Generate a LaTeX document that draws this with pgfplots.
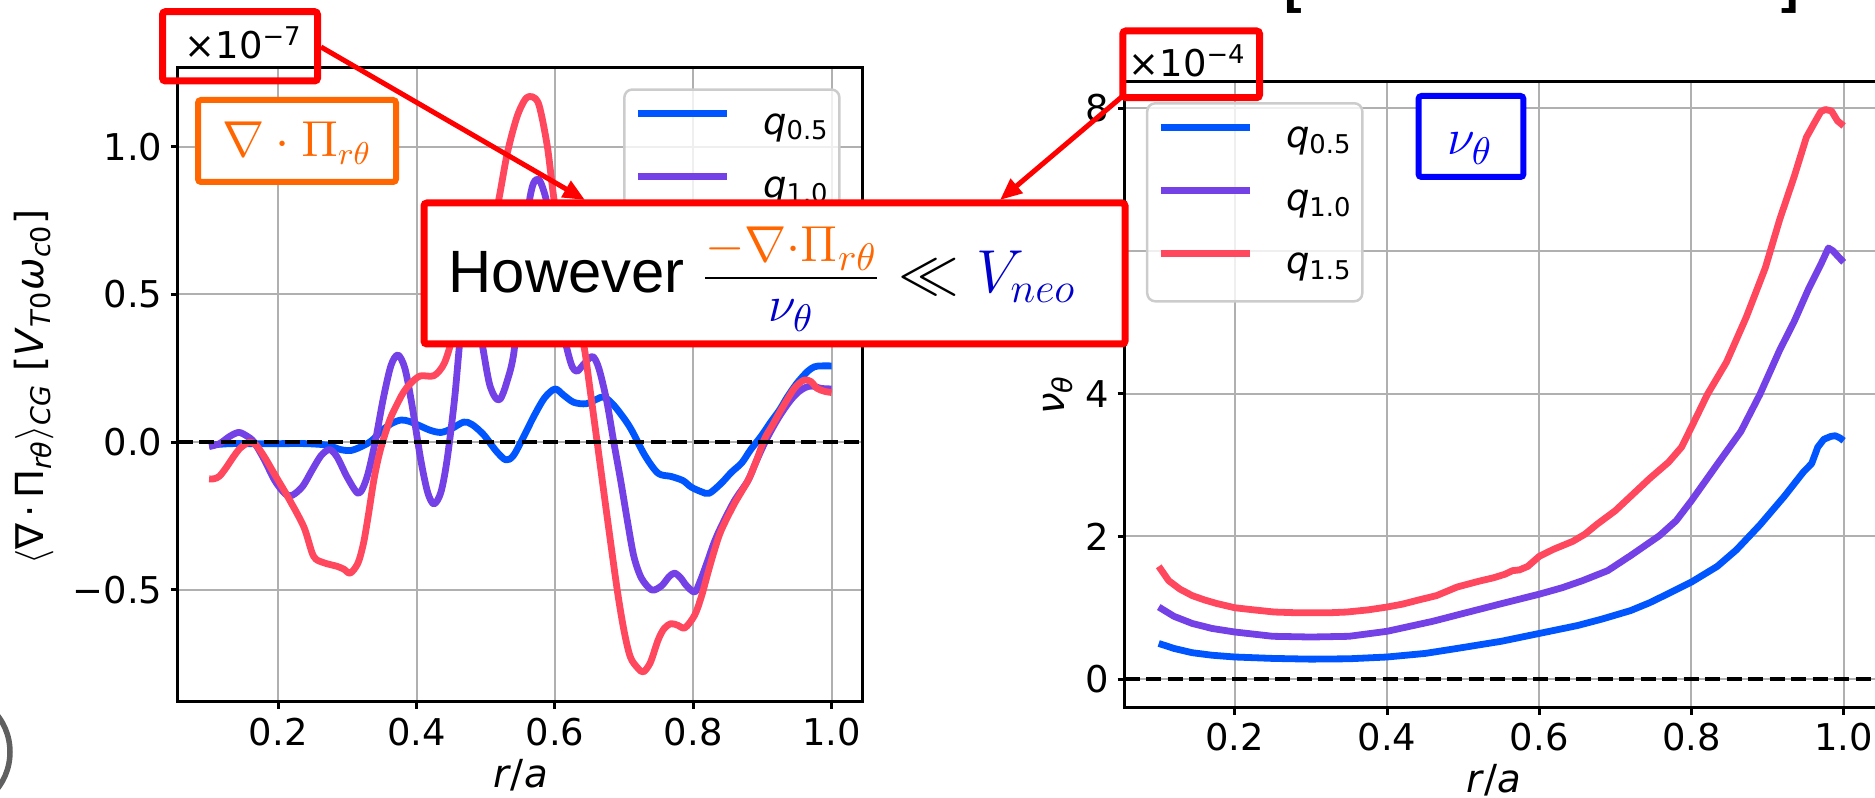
\documentclass[border=0pt]{standalone}
\usepackage[no-math]{fontspec}
\setmainfont{DejaVu Sans}
\newfontfamily\arialfont{Liberation Sans}
\usepackage{pgfplots}
\pgfplotsset{compat=1.18}
\usetikzlibrary{arrows.meta}
\definecolor{cblue}{HTML}{0055FF}
\definecolor{cpurp}{HTML}{7341E6}
\definecolor{cred}{HTML}{FF475E}
\definecolor{corange}{HTML}{FF6600}
\definecolor{pblue}{HTML}{0000FF}
\definecolor{dblue}{HTML}{0000CC}
\definecolor{gridgray}{HTML}{B0B0B0}
\newcommand\fs{\fontsize{10.5}{12.6}\selectfont}
\newcommand\fsl{\fontsize{11}{13.2}\selectfont}
\pgfplotsset{
  myax/.style={
    scale only axis, anchor=south west,
    xmin=0.055, xmax=1.045,
    xtick={0.2,0.4,0.6,0.8,1.0}, xticklabels={0.2,0.4,0.6,0.8,1.0},
    grid=major, grid style={gridgray, line width=0.2mm},
    tick align=outside, major tick length=0.7mm,
    xtick pos=left, ytick pos=left,
    tick style={black, line width=0.3mm},
    axis line style={black, line width=0.3mm},
    tick label style={font=\fs, inner sep=0.8mm},
    label style={font=\fsl},
    legend cell align=left,
    legend image code/.code={\draw[##1, line width=0.68mm] (0mm,1.2mm) -- (8.9mm,1.2mm);},
    legend style={draw=black!20, line width=0.25mm, rounded corners=0.8mm, fill=white,
      fill opacity=0.8, text opacity=1, draw opacity=1, inner xsep=1.0mm, inner ysep=1.85mm,
      row sep=2.8mm, font=\fs,
      nodes={inner sep=0pt, text height=2.6mm, text depth=0.9mm},
      /tikz/every odd column/.append style={column sep=3.3mm}},
    every axis plot/.append style={line width=0.68mm, line join=round},
  },
}
\begin{document}
\begin{tikzpicture}
% ---------------- left axis ----------------
\begin{axis}[myax,
  at={(17.8mm,-70.2mm)}, width=68.48mm, height=63.4mm,
  ymin=-0.879, ymax=1.266,
  ytick={-0.5,0,0.5,1.0}, yticklabels={−0.5,0.0,0.5,1.0},
  xlabel={\textit{r}/\textit{a}},
  xlabel style={at={(axis description cs:0.5,-0.115)}, anchor=center},
  ylabel={$\langle$∇\,·\,Π\textsubscript{\textit{rθ}}$\rangle$\textsubscript{\textit{CG}} [\textit{V}\textsubscript{\textit{T}0}\textit{ω}\textsubscript{\textit{c}0}]},
  ylabel style={at={(axis description cs:-0.2103,0.497)}, anchor=center},
  legend style={at={(0.65,0.968)}, anchor=north west},
]
\addplot[cblue, smooth, tension=0.5] coordinates {
(0.100,-0.010) (0.130,-0.005) (0.160,-0.005) (0.200,-0.005) (0.240,-0.005) (0.270,-0.010)
(0.290,-0.025) (0.305,-0.028) (0.320,-0.015) (0.335,0.005) (0.350,0.040) (0.365,0.065)
(0.378,0.075) (0.390,0.070) (0.405,0.055) (0.420,0.040) (0.435,0.033) (0.450,0.045)
(0.468,0.068) (0.480,0.060) (0.497,0.025) (0.515,-0.030) (0.529,-0.060) (0.540,-0.045)
(0.555,0.020) (0.570,0.090) (0.585,0.150) (0.600,0.180) (0.612,0.160) (0.627,0.135)
(0.645,0.130) (0.660,0.145) (0.671,0.153) (0.685,0.125) (0.700,0.080) (0.711,0.040)
(0.730,-0.045) (0.749,-0.105) (0.768,-0.116) (0.785,-0.130) (0.797,-0.152) (0.812,-0.168)
(0.823,-0.173) (0.840,-0.140) (0.855,-0.102) (0.870,-0.070) (0.883,-0.025) (0.898,0.020)
(0.912,0.068) (0.925,0.110) (0.936,0.153) (0.950,0.200) (0.965,0.239) (0.975,0.255)
(0.985,0.258) (1.000,0.258)};
\addlegendentry{\textit{q}\textsubscript{0.5}}
\addplot[cpurp, smooth, tension=0.5] coordinates {
(0.100,-0.015) (0.115,-0.005) (0.130,0.020) (0.143,0.033) (0.155,0.020) (0.165,0.000)
(0.180,-0.060) (0.195,-0.130) (0.210,-0.175) (0.220,-0.180) (0.235,-0.150) (0.250,-0.090)
(0.262,-0.045) (0.274,-0.025) (0.285,-0.050) (0.300,-0.120) (0.316,-0.173) (0.328,-0.120)
(0.340,0.000) (0.352,0.150) (0.363,0.260) (0.373,0.295) (0.383,0.250) (0.393,0.130)
(0.406,-0.060) (0.416,-0.170) (0.425,-0.209) (0.435,-0.170) (0.444,-0.060) (0.455,0.150)
(0.465,0.400) (0.475,0.520) (0.485,0.480) (0.495,0.330) (0.505,0.200) (0.514,0.150)
(0.521,0.146) (0.530,0.200) (0.541,0.310) (0.552,0.600) (0.562,0.800) (0.568,0.870)
(0.574,0.890) (0.580,0.875) (0.589,0.800) (0.600,0.600) (0.610,0.400) (0.618,0.310)
(0.625,0.255) (0.632,0.240) (0.642,0.265) (0.654,0.290) (0.662,0.260) (0.669,0.200)
(0.676,0.125) (0.685,0.000) (0.695,-0.130) (0.705,-0.270) (0.714,-0.386) (0.725,-0.460)
(0.740,-0.500) (0.754,-0.486) (0.765,-0.455) (0.773,-0.443) (0.782,-0.460) (0.790,-0.485)
(0.802,-0.507) (0.810,-0.470) (0.821,-0.400) (0.830,-0.340) (0.840,-0.287) (0.859,-0.200)
(0.879,-0.130) (0.890,-0.070) (0.903,-0.003) (0.915,0.050) (0.927,0.097) (0.940,0.140)
(0.951,0.168) (0.962,0.185) (0.972,0.190) (0.985,0.182) (1.000,0.180)};
\addlegendentry{\textit{q}\textsubscript{1.0}}
\addplot[cred, smooth, tension=0.5] coordinates {
(0.100,-0.124) (0.107,-0.124) (0.115,-0.115) (0.125,-0.085) (0.135,-0.050) (0.145,-0.020)
(0.158,0.000) (0.168,-0.010) (0.180,-0.050) (0.190,-0.090) (0.200,-0.130) (0.215,-0.190)
(0.237,-0.287) (0.251,-0.386) (0.266,-0.408) (0.285,-0.420) (0.295,-0.430) (0.304,-0.443)
(0.315,-0.410) (0.323,-0.344) (0.330,-0.250) (0.338,-0.130) (0.345,-0.050) (0.352,0.010)
(0.362,0.080) (0.371,0.125) (0.380,0.165) (0.390,0.196) (0.405,0.224) (0.425,0.225)
(0.440,0.267) (0.454,0.366) (0.470,0.460) (0.490,0.600) (0.505,0.700) (0.517,0.800)
(0.531,0.977) (0.545,1.100) (0.557,1.160) (0.567,1.169) (0.577,1.140) (0.589,1.000)
(0.600,0.800) (0.615,0.640) (0.630,0.470) (0.643,0.310) (0.649,0.208) (0.661,0.000)
(0.675,-0.245) (0.690,-0.500) (0.700,-0.640) (0.709,-0.727) (0.720,-0.765) (0.728,-0.777)
(0.738,-0.745) (0.749,-0.670) (0.758,-0.630) (0.768,-0.614) (0.778,-0.620) (0.788,-0.628)
(0.802,-0.585) (0.812,-0.520) (0.821,-0.443) (0.830,-0.370) (0.840,-0.300) (0.859,-0.210)
(0.879,-0.130) (0.890,-0.070) (0.903,0.011) (0.915,0.060) (0.927,0.110) (0.946,0.182)
(0.960,0.210) (0.970,0.205) (0.979,0.182) (0.990,0.172) (1.000,0.168)};
\addlegendentry{\textit{q}\textsubscript{1.5}}
\addplot[black, line width=0.4mm, dash pattern=on 1.5mm off 0.65mm, forget plot]
  coordinates {(0.055,0) (1.045,0)};
\end{axis}
% ---------------- right axis ----------------
\begin{axis}[myax,
  at={(112.45mm,-70.77mm)}, width=75.34mm, height=62.6mm,
  ymin=-0.40, ymax=8.37,
  ytick={0,2,4,6,8}, yticklabels={0,2,4,6,8},
  xlabel={\textit{r}/\textit{a}},
  xlabel style={at={(axis description cs:0.49,-0.1155)}, anchor=center},
  ylabel={\textit{ν}\textsubscript{\textit{θ}}},
  ylabel style={at={(axis description cs:-0.0883,0.4995)}, anchor=center},
  legend style={at={(0.0285,0.9675)}, anchor=north west},
]
\addplot[cblue] coordinates {
(0.100,0.50) (0.120,0.43) (0.144,0.37) (0.170,0.335) (0.200,0.31) (0.250,0.29) (0.300,0.28)
(0.350,0.285) (0.400,0.31) (0.450,0.36) (0.492,0.43) (0.550,0.53) (0.600,0.64) (0.650,0.75)
(0.682,0.84) (0.720,0.96) (0.745,1.07) (0.770,1.20) (0.800,1.36) (0.834,1.58) (0.859,1.81)
(0.890,2.16) (0.922,2.56) (0.947,2.90) (0.958,3.02) (0.966,3.25) (0.974,3.36) (0.983,3.40)
(0.989,3.41) (0.995,3.38) (1.000,3.34)};
\addlegendentry{\textit{q}\textsubscript{0.5}}
\addplot[cpurp] coordinates {
(0.100,1.01) (0.120,0.88) (0.144,0.78) (0.170,0.71) (0.200,0.66) (0.250,0.60) (0.300,0.59)
(0.350,0.60) (0.400,0.67) (0.460,0.81) (0.500,0.92) (0.555,1.07) (0.600,1.19) (0.630,1.28)
(0.657,1.38) (0.690,1.52) (0.720,1.73) (0.758,2.01) (0.780,2.22) (0.800,2.50) (0.834,3.01)
(0.865,3.47) (0.890,3.99) (0.916,4.61) (0.935,5.01) (0.954,5.47) (0.970,5.81) (0.980,6.04)
(0.986,6.00) (0.992,5.93) (1.000,5.84)};
\addlegendentry{\textit{q}\textsubscript{1.0}}
\addplot[cred] coordinates {
(0.100,1.58) (0.113,1.38) (0.128,1.26) (0.144,1.17) (0.160,1.11) (0.176,1.06) (0.200,1.00)
(0.225,0.97) (0.252,0.94) (0.280,0.93) (0.302,0.93) (0.325,0.93) (0.347,0.94) (0.375,0.97)
(0.400,1.01) (0.420,1.05) (0.442,1.11) (0.465,1.17) (0.492,1.29) (0.520,1.37) (0.540,1.42)
(0.555,1.47) (0.565,1.52) (0.574,1.53) (0.585,1.58) (0.600,1.72) (0.619,1.82) (0.644,1.93)
(0.660,2.03) (0.676,2.17) (0.700,2.36) (0.720,2.56) (0.745,2.81) (0.770,3.04) (0.787,3.25)
(0.800,3.53) (0.821,3.99) (0.846,4.44) (0.872,5.07) (0.897,5.76) (0.916,6.44) (0.935,7.04)
(0.951,7.59) (0.963,7.82) (0.970,7.95) (0.976,7.98) (0.984,7.96) (0.992,7.82) (1.000,7.75)};
\addlegendentry{\textit{q}\textsubscript{1.5}}
\addplot[black, line width=0.4mm, dash pattern=on 1.5mm off 0.65mm, forget plot]
  coordinates {(0.055,0) (1.045,0)};
\end{axis}
% ---------------- annotations (pixel coordinates from top-left) ----------------
\begin{scope}[x=0.1mm, y=-0.1mm]
\node[anchor=base west, inner sep=0, font=\fs] at (184,59) {×10\textsuperscript{−7}};
\draw[red, line width=0.7mm, rounded corners=0.3mm] (162.5,11.7) rectangle (317.5,81);
\node[anchor=base west, inner sep=0, font=\fs] at (1128,77) {×10\textsuperscript{−4}};
\draw[red, line width=0.7mm, rounded corners=0.3mm] (1122.8,31) rectangle (1259.5,97.7);
\draw[corange, line width=0.6mm, fill=white, rounded corners=0.3mm] (198,100) rectangle (396,182);
\node[corange, anchor=base, inner sep=0, font=\fontsize{13.5}{16}\selectfont] at (297,157) {$\nabla\cdot\Pi_{r\theta}$};
\draw[pblue, line width=0.6mm, fill=white, rounded corners=0.3mm] (1418.5,96) rectangle (1523.4,177);
\node[pblue, anchor=base, inner sep=0, font=\fontsize{15}{18}\selectfont] at (1470,155) {$\nu_\theta$};
\draw[red, line width=0.5mm, -{Triangle[length=2.2mm,width=1.8mm]}] (321,47) -- (585,200);
\draw[red, line width=0.5mm, -{Triangle[length=2.2mm,width=1.8mm]}] (1124,95) -- (1000,200);
\draw[red, line width=0.7mm, fill=white, rounded corners=0.3mm] (424,203) rectangle (1125,344);
\node[anchor=base west, inner sep=0, font=\fontsize{17}{20}\selectfont] at (448,293)
  {\arialfont However\ $\frac{\mbox{\fontsize{15}{17}\selectfont\color{corange}$-\nabla{\cdot}\Pi_{r\theta}$\rule[-1.4mm]{0pt}{1.4mm}}}{\mbox{\fontsize{15}{17}\selectfont\color{dblue}$\nu_\theta$\rule{0pt}{4.2mm}}}\ll{\color{dblue}V_{neo}}$};
\node[anchor=base west, inner sep=0, font=\arialfont\bfseries\fontsize{15}{18}\selectfont] at (1284,3) {[};
\node[anchor=base east, inner sep=0, font=\arialfont\bfseries\fontsize{15}{18}\selectfont] at (1800,3) {]};
\draw[gray!75!black, line width=0.55mm] (-50,752) circle (6mm);
\end{scope}
\pgfresetboundingbox
\path[use as bounding box] (0,0) rectangle (187.5mm,-79.8mm);
\end{tikzpicture}
\end{document}
